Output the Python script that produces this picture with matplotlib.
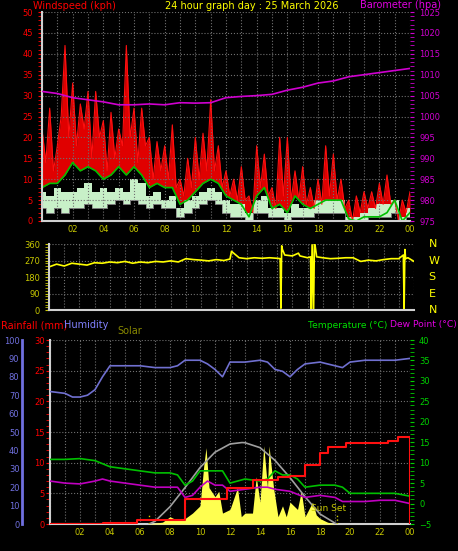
import numpy as np
import matplotlib
matplotlib.use("Agg")
import matplotlib.pyplot as plt
from matplotlib.ticker import MultipleLocator, FixedLocator

# ---- data ----
hours_label = ['02', '04', '06', '08', '10', '12', '14', '16', '18', '20', '22', '00']
hour_ticks = [2, 4, 6, 8, 10, 12, 14, 16, 18, 20, 22, 24]

# wind gust, every 15 min
gust = [22, 14, 27, 12, 18, 25, 42, 20, 33, 18, 28, 22, 31, 15, 31, 20,
        24, 12, 26, 15, 22, 18, 42, 20, 27, 14, 27, 18, 20, 10, 19, 12,
        18, 10, 23, 8, 10, 6, 15, 8, 20, 10, 21, 12, 29, 12, 18, 8,
        12, 6, 10, 5, 13, 5, 6, 2, 18, 8, 16, 6, 8, 3, 20, 6,
        20, 5, 12, 5, 13, 4, 8, 3, 10, 4, 18, 6, 16, 5, 10, 3,
        5, 0, 6, 2, 7, 3, 7, 3, 9, 4, 11, 4, 5, 0, 5, 2, 7]
# average wind, every 30 min
wind_avg = [8, 9, 9, 11, 14, 12, 13, 12, 10, 11, 13, 11, 13, 11, 8, 9, 8, 8,
            4, 5, 7, 9, 10, 9, 6, 5, 4, 1, 6, 8, 3, 4, 2, 6, 4, 3, 4, 5, 5, 5,
            0.5, 0, 1, 1, 1, 2, 5, 0, 2]
# wind speed (pale band), every 30 min
wind_hi = [7, 6, 8, 7, 7, 8, 9, 7, 8, 7, 8, 7, 10, 9, 6, 7, 5, 6,
           3, 5, 6, 7, 8, 7, 5, 4, 4, 2, 5, 6, 3, 3, 2, 4, 3, 3, 5, 5, 5, 5,
           1, 1, 2, 3, 4, 4, 5, 1, 3]
wind_lo = [3, 2, 3, 2, 3, 3, 4, 3, 3, 4, 5, 4, 5, 4, 3, 4, 3, 3,
           1, 2, 3, 4, 5, 4, 2, 1, 1, 0, 2, 2, 1, 1, 0, 1, 1, 1, 2, 2, 2, 2,
           0, 0, 0, 1, 1, 1, 2, 0, 1]
# barometer hourly
baro = [1006, 1005.5, 1004.5, 1004, 1003.5, 1002.8, 1002.8, 1003, 1002.8,
        1003.3, 1003.2, 1003.3, 1004.5, 1004.8, 1005, 1005.3, 1006.3, 1007,
        1008, 1008.5, 1009.5, 1010, 1010.5, 1011, 1011.5]

# wind direction
dir_t = [0, 0.5, 1, 1.5, 2, 2.5, 3, 3.5, 4, 4.5, 5, 5.5, 6, 6.5, 7, 7.5, 8, 8.5,
         9, 9.5, 10, 10.5, 11, 11.5, 11.9, 12, 12.5, 13, 13.5, 14, 14.5, 15, 15.2,
         15.25, 15.3, 15.35, 15.5, 16, 16.4, 16.5, 17, 17.2, 17.25, 17.3, 17.4,
         17.45, 17.5, 17.6, 18, 18.5, 19, 19.5, 20, 20.5, 21, 21.5, 22, 22.5, 23,
         23.3, 23.35, 23.4, 23.45, 23.6, 24]
dir_v = [235, 250, 240, 255, 250, 245, 258, 255, 262, 258, 265, 255, 262, 258,
         265, 262, 268, 262, 280, 275, 272, 268, 275, 270, 278, 320, 285, 280,
         285, 282, 285, 282, 280, 10, 350, 330, 300, 295, 310, 295, 285, 290, 0,
         355, 5, 360, 350, 290, 285, 280, 282, 285, 285, 265, 272, 268, 275, 280,
         280, 300, 5, 330, 280, 285, 265]

# bottom panel
hum_t = [0, 1, 1.5, 2, 2.5, 3, 3.5, 4, 5, 6, 7, 8, 8.5, 9, 10, 10.5, 11, 11.5,
         12, 13, 14, 14.5, 15, 15.5, 16, 16.5, 17, 18, 18.5, 19, 19.5, 20, 21,
         22, 23, 24]
humidity = [72, 71, 69, 69, 70, 73, 80, 86, 86, 86, 85, 85, 86, 89, 89, 87, 84,
            80, 88, 88, 89, 88, 84, 83, 80, 84, 87, 88, 87, 86, 85, 88, 89, 89,
            89, 90]
temp_t = [0, 1, 2, 3, 4, 5, 6, 7, 8, 8.5, 9, 9.5, 10, 11, 11.5, 12, 13, 14,
          14.5, 15, 15.5, 16, 16.5, 17, 18, 19, 19.5, 20, 21, 22, 23, 24]
temperature = [10.8, 10.8, 11, 10.5, 9, 8.5, 8, 7.5, 7.5, 7, 4.5, 5.5, 8, 8,
               8, 5, 6, 5.5, 6, 8, 7, 7, 6, 4, 4.5, 4.5, 4, 2.5, 2.5, 2.5, 2.5,
               1.8]
dew_t = [0, 1, 2, 3, 3.5, 4, 5, 6, 7, 8, 8.5, 9, 9.5, 10, 10.5, 11, 11.5, 12,
         13, 14, 14.5, 15, 16, 17, 18, 19, 19.5, 20, 21, 22, 23, 24]
dewpoint = [5.5, 5, 4.8, 5.5, 6, 5.5, 5, 4.5, 4, 4, 4, 1.5, 2, 4, 5.5, 4.5,
            4.5, 3, 3.5, 4, 4, 3.5, 3, 1.5, 2, 1.5, 0.5, 0.5, 0.5, 0.8, 0.8, 0]
rain_t = [0, 3.5, 5.8, 8.5, 9.0, 11.8, 13.5, 15.2, 16.0, 17.0, 18.0, 18.5,
          19.7, 22.5, 23.2, 23.95, 24]
rain = [0, 0.2, 0.6, 0.6, 4.1, 5.8, 7.1, 7.7, 7.9, 9.7, 11.5, 12.5, 13.2,
        13.5, 14.2, 14.2, 0]
solar_t = [6.6, 7, 7.5, 8, 8.5, 9, 9.5, 10, 10.25, 10.4, 10.6, 11, 11.25, 11.5,
           12, 12.5, 12.75, 13, 13.5, 13.75, 14, 14.25, 14.5, 14.6, 14.9, 15.2,
           15.5, 15.75, 16, 16.5, 16.75, 17, 17.5, 17.75, 18, 18.5, 19]
solar = [0, 5, 10, 40, 20, 30, 60, 100, 320, 420, 200, 150, 180, 60, 80, 200,
         40, 60, 60, 260, 120, 430, 200, 430, 200, 40, 100, 40, 120, 80, 180,
         40, 120, 50, 30, 10, 0]
solar_max_t = [6.6, 7, 8, 9, 10, 11, 12, 12.8, 13, 14, 15, 16, 17, 18, 19.1]
solar_max = [0, 15, 95, 200, 310, 395, 440, 448, 447, 420, 350, 255, 150, 55, 0]
sunrise, sunset = 6.6, 19.1

W, H = 458, 551
fig = plt.figure(figsize=(W / 100, H / 100), dpi=100, facecolor='black')

def box(l, t, r, b):
    return [l / W, 1 - b / H, (r - l) / W, (b - t) / H]

tick_col = '#c8c800'
grid_kw = dict(color='#707070', linestyle=':', linewidth=0.8)

def style(ax):
    ax.set_facecolor('black')
    for s in ax.spines.values():
        s.set_visible(False)
    ax.spines['left'].set_visible(True)
    ax.spines['left'].set_color('#d0d0d0')
    ax.spines['left'].set_linewidth(1.5)
    ax.spines['bottom'].set_visible(True)
    ax.spines['bottom'].set_color('#d0d0d0')
    ax.spines['bottom'].set_linewidth(1.5)
    ax.set_xlim(0, 24)
    ax.xaxis.set_major_locator(FixedLocator(hour_ticks))
    ax.xaxis.set_minor_locator(MultipleLocator(1))
    ax.grid(True, which='major', **grid_kw)
    ax.grid(True, which='minor', axis='x', **grid_kw)
    ax.tick_params(axis='x', colors=tick_col, labelsize=6, length=0, pad=3)

def bare(ax):
    for s in ax.spines.values():
        s.set_visible(False)

# ---- top panel ----
ax1 = fig.add_axes(box(42, 12, 410, 221))
style(ax1)
ax1.set_ylim(0, 50)
ax1.set_xticks(hour_ticks, hours_label)
t15 = np.arange(len(gust)) * 0.25
t30 = np.arange(len(wind_avg)) * 0.5
ax1.fill_between(t15, np.interp(t15, t30, wind_avg), gust, color='#e00000', lw=0)
ax1.plot(t15, gust, color='#ff1010', lw=0.8)
ax1.fill_between(t30, wind_lo, wind_hi, color='#c8f0c8', step='mid', lw=0)
ax1.step(t30, wind_lo, where='mid', color='#909090', lw=0.6)
ax1.plot(t30, wind_avg, color='#00c000', lw=1.2)
axb = ax1.twinx()
bare(axb)
axb.set_ylim(975, 1025)
axb.plot(np.arange(len(baro)), baro, color='#d000d0', lw=1.2)
axb.yaxis.set_major_locator(MultipleLocator(5))
axb.yaxis.set_minor_locator(MultipleLocator(1))
axb.tick_params(axis='y', colors='#d000d0', labelsize=6, length=3, which='both')
ax1.yaxis.tick_left()
ax1.yaxis.set_major_locator(MultipleLocator(5))
ax1.yaxis.set_minor_locator(MultipleLocator(1))
ax1.tick_params(axis='y', colors='red', labelsize=6, length=3, which='both')

fig.text(33 / W, 1 - 6 / H, 'Windspeed (kph)', color='red', fontsize=7, va='center')
fig.text(252 / W, 1 - 6 / H, '24 hour graph day : 25 March 2026', color='yellow',
         fontsize=7, va='center', ha='center')
fig.text(441 / W, 1 - 5 / H, 'Barometer (hpa)', color='#e000e0', fontsize=7,
         va='center', ha='right')

# ---- direction panel ----
ax2 = fig.add_axes(box(49, 244, 414, 310))
style(ax2)
ax2.set_ylim(0, 360)
ax2.set_xticklabels([])
ax2.yaxis.set_major_locator(MultipleLocator(90))
ax2.yaxis.set_minor_locator(MultipleLocator(15))
ax2.tick_params(axis='y', colors=tick_col, labelsize=6, length=3, which='both')
ax2.plot(dir_t, dir_v, color='#ffff00', lw=1.2)
for lab, v in zip(['N', 'W', 'S', 'E', 'N'], [360, 270, 180, 90, 0]):
    ax2.text(1.04, v, lab, color='yellow', fontsize=8, va='center',
             transform=ax2.get_yaxis_transform())

# ---- bottom panel ----
ax3 = fig.add_axes(box(50, 340, 410, 524))
style(ax3)
ax3.set_xticks(hour_ticks, hours_label)
ax3.set_ylim(0, 30)
ax3.yaxis.set_major_locator(MultipleLocator(5))
ax3.yaxis.set_minor_locator(MultipleLocator(1))

axs = ax3.twinx()
axs.set_ylim(0, 1012)
axs.axis('off')
axs.fill_between(solar_t, solar, color='#ffff50', lw=0)
axs.plot(solar_max_t, solar_max, color='#a0a0a0', lw=1.2)
axs.vlines([sunrise, sunset], 0, 60, colors='#d0d000', linestyles=':', lw=1)
axs.text(sunset - 0.5, 70, 'Sun Set', color='#c8c800', fontsize=6.5, ha='center')

axt = ax3.twinx()
bare(axt)
axt.set_ylim(-5, 40)
axt.yaxis.set_major_locator(MultipleLocator(5))
axt.yaxis.set_minor_locator(MultipleLocator(1))
axt.tick_params(axis='y', colors='#00d000', labelsize=6, length=3, which='both')
axt.plot(temp_t, temperature, color='#00c000', lw=1.2, zorder=4)
axt.plot(dew_t, dewpoint, color='#c000c0', lw=1.2, zorder=4)

axr = ax3.twinx()
bare(axr)
axr.set_ylim(0, 30)
axr.set_yticks([])
axr.step(rain_t, rain, where='post', color='#ff1010', lw=1.5, zorder=5)

axh = ax3.twinx()
bare(axh)
axh.set_ylim(0, 100)
axh.plot(hum_t, humidity, color='#7070d0', lw=1.2)
axh.yaxis.tick_left()
axh.spines['left'].set_visible(True)
axh.spines['left'].set_position(('outward', 20))
axh.spines['left'].set_color('#7070e0')
axh.spines['left'].set_linewidth(2)
axh.yaxis.set_major_locator(MultipleLocator(10))
axh.tick_params(axis='y', colors='#7070e0', labelsize=6, length=0, pad=2)

ax3.yaxis.tick_left()
ax3.tick_params(axis='y', colors='red', labelsize=6, length=3, which='both', pad=1)

fig.text(1 / W, 1 - 325 / H, 'Rainfall (mm)', color='red', fontsize=7, va='center')
fig.text(64 / W, 1 - 325 / H, 'Humidity', color='#8080ff', fontsize=7, va='center')
fig.text(117 / W, 1 - 331 / H, 'Solar', color='#888800', fontsize=7, va='center')
fig.text(308 / W, 1 - 325 / H, 'Temperature (°C)', color='#00e000', fontsize=6.6, va='center')
fig.text(457 / W, 1 - 325 / H, 'Dew Point (°C)', color='#e000e0', fontsize=6.6,
         va='center', ha='right')

fig.savefig('out.png', dpi=100, facecolor='black')
